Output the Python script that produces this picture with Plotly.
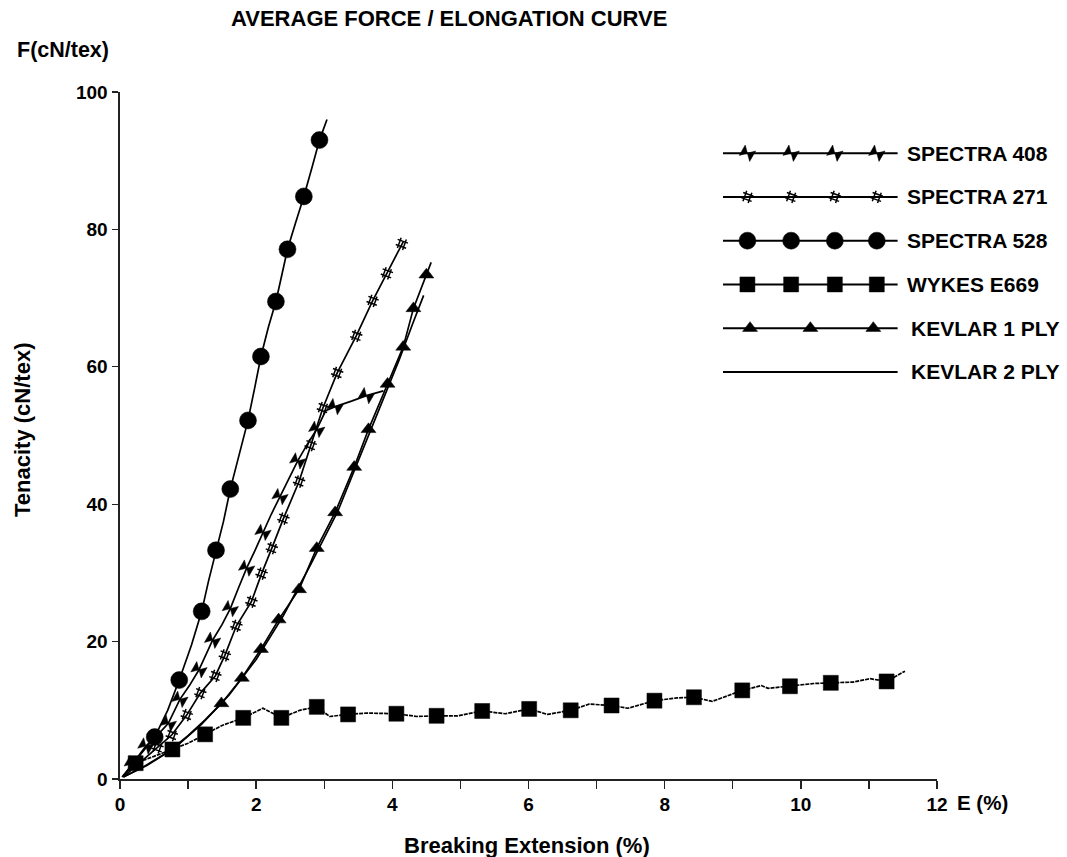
import plotly.graph_objects as go

# ---------------- text ----------------
TITLE = "AVERAGE FORCE / ELONGATION CURVE"
Y_UNIT_LABEL = "F(cN/tex)"
X_UNIT_LABEL = "E (%)"
X_TITLE = "Breaking Extension (%)"
Y_TITLE = "Tenacity (cN/tex)"

x_tick_values = list(range(0, 13))
x_tick_labels = ["0", "", "2", "", "4", "", "6", "", "8", "", "10", "", "12"]
y_tick_values = [0, 20, 40, 60, 80, 100]
y_tick_labels = ["0", "20", "40", "60", "80", "100"]

series_names = ["SPECTRA 408", "SPECTRA 271", "SPECTRA 528",
                "WYKES E669", "KEVLAR 1 PLY", "KEVLAR 2 PLY"]

# ---------------- data ----------------
# SPECTRA 408
s408_x = [0.05, 0.18, 0.38, 0.55, 0.71, 0.88, 1.02, 1.16, 1.26, 1.36, 1.50, 1.62, 1.74, 1.86,
          1.98, 2.10, 2.22, 2.35, 2.48, 2.61, 2.75, 2.89, 3.02, 3.16, 3.40, 3.62, 3.87]
s408_y = [0.4, 2.2, 4.8, 6.4, 8.1, 11.6, 13.6, 15.9, 18.0, 20.2, 22.5, 24.8, 27.8, 30.7,
          33.2, 35.9, 38.5, 41.1, 43.8, 46.3, 48.7, 50.9, 53.6, 54.2, 55.0, 55.8, 56.5]
s408_mx = [0.18, 0.38, 0.71, 0.88, 1.16, 1.36, 1.62, 1.86, 2.10, 2.35, 2.61, 2.89, 3.16, 3.62]
s408_my = [2.2, 4.8, 8.1, 11.6, 15.9, 20.2, 24.8, 30.7, 35.9, 41.1, 46.3, 50.9, 54.2, 55.8]

# SPECTRA 271
s271_x = [0.05, 0.30, 0.55, 0.76, 0.98, 1.18, 1.40, 1.54, 1.71, 1.93, 2.08, 2.23, 2.40,
          2.63, 2.80, 2.98, 3.19, 3.47, 3.71, 3.92, 4.14, 4.16]
s271_y = [0.3, 2.5, 4.6, 6.4, 9.3, 12.5, 15.0, 18.0, 22.3, 25.8, 29.9, 33.6, 37.9,
          43.3, 48.6, 54.0, 59.1, 64.5, 69.6, 73.6, 77.9, 78.2]
s271_mx = [0.55, 0.76, 0.98, 1.18, 1.40, 1.54, 1.71, 1.93, 2.08, 2.23, 2.40, 2.63, 2.80,
           2.98, 3.19, 3.47, 3.71, 3.92, 4.14]
s271_my = [4.6, 6.4, 9.3, 12.5, 15.0, 18.0, 22.3, 25.8, 29.9, 33.6, 37.9, 43.3, 48.6,
           54.0, 59.1, 64.5, 69.6, 73.6, 77.9]

# SPECTRA 528
s528_x = [0.03, 0.25, 0.51, 0.70, 0.87, 1.05, 1.20, 1.30, 1.41, 1.52, 1.62, 1.75, 1.88,
          1.98, 2.07, 2.18, 2.29, 2.38, 2.46, 2.58, 2.70, 2.82, 2.93, 3.04]
s528_y = [0.3, 3.0, 6.1, 10.0, 14.4, 19.5, 24.4, 28.8, 33.3, 37.5, 42.2, 47.0, 52.2,
          57.0, 61.5, 65.8, 69.5, 73.5, 77.1, 81.0, 84.8, 89.0, 93.0, 96.0]
s528_mx = [0.51, 0.87, 1.20, 1.41, 1.62, 1.88, 2.07, 2.29, 2.46, 2.70, 2.93]
s528_my = [6.1, 14.4, 24.4, 33.3, 42.2, 52.2, 61.5, 69.5, 77.1, 84.8, 93.0]

# WYKES E669
wyk_x = [0.05, 0.23, 0.50, 0.77, 1.00, 1.25, 1.50, 1.81, 2.10, 2.37, 2.64, 2.89, 3.08, 3.35,
         3.62, 4.06, 4.36, 4.65, 4.96, 5.32, 5.66, 6.01, 6.28, 6.62, 6.89, 7.22, 7.46,
         7.85, 8.18, 8.43, 8.70, 9.14, 9.42, 9.52, 9.84, 10.19, 10.44, 10.76, 11.02,
         11.26, 11.53]
wyk_y = [0.5, 2.3, 3.3, 4.3, 5.2, 6.5, 7.8, 8.9, 10.3, 8.9, 10.0, 10.5, 9.1, 9.4,
         9.6, 9.5, 9.1, 9.2, 9.2, 9.9, 9.5, 10.2, 9.4, 10.0, 10.9, 10.7, 10.3,
         11.4, 11.8, 11.9, 11.3, 12.9, 13.6, 13.2, 13.5, 13.9, 14.0, 14.1, 14.6,
         14.2, 15.7]
wyk_mx = [0.23, 0.77, 1.25, 1.81, 2.37, 2.89, 3.35, 4.06, 4.65, 5.32, 6.01, 6.62, 7.22,
          7.85, 8.43, 9.14, 9.84, 10.44, 11.26]
wyk_my = [2.3, 4.3, 6.5, 8.9, 8.9, 10.5, 9.4, 9.5, 9.2, 9.9, 10.2, 10.0, 10.7,
          11.4, 11.9, 12.9, 13.5, 14.0, 14.2]

# KEVLAR 1 PLY
kv1_x = [0.05, 0.35, 0.70, 1.00, 1.25, 1.49, 1.79, 2.07, 2.33, 2.63, 2.89, 3.16, 3.44,
         3.65, 3.93, 4.16, 4.31, 4.50, 4.57]
kv1_y = [0.3, 1.8, 3.9, 6.3, 8.6, 11.0, 14.7, 18.9, 23.2, 27.6, 33.6, 38.8, 45.4,
         50.9, 57.5, 62.9, 68.5, 73.4, 75.2]
kv1_mx = [1.49, 1.79, 2.07, 2.33, 2.63, 2.89, 3.16, 3.44, 3.65, 3.93, 4.16, 4.31, 4.50]
kv1_my = [11.0, 14.7, 18.9, 23.2, 27.6, 33.6, 38.8, 45.4, 50.9, 57.5, 62.9, 68.5, 73.4]

# KEVLAR 2 PLY
kv2_x = [0.05, 0.40, 0.80, 1.20, 1.60, 2.00, 2.40, 2.80, 3.20, 3.60, 3.90, 4.10, 4.30, 4.46]
kv2_y = [0.3, 2.0, 4.5, 8.0, 12.2, 17.4, 23.8, 31.2, 39.0, 48.8, 56.2, 61.0, 66.3, 70.4]

# ---------------- styling ----------------
FONT = "Liberation Sans, Arial, sans-serif"
BLACK = "#000000"
LINE_W = 1.7

styles = {
    "SPECTRA 408": dict(symbol="bowtie", size=12, angle=30),
    "SPECTRA 271": dict(symbol="hash", size=11, angle=20),
    "SPECTRA 528": dict(symbol="circle", size=17, angle=0),
    "WYKES E669": dict(symbol="square", size=15, angle=0),
    "KEVLAR 1 PLY": dict(symbol="triangle-up", size=13, angle=0),
}

fig = go.Figure()

def add_series(name, lx, ly, mx=None, my=None, dash="solid"):
    fig.add_trace(go.Scatter(x=lx, y=ly, mode="lines", name=name, showlegend=False,
                             line=dict(color=BLACK, width=LINE_W, dash=dash, shape="linear"),
                             hoverinfo="skip"))
    if mx is not None:
        st = styles[name]
        open_sym = st["symbol"] == "hash"
        fig.add_trace(go.Scatter(x=mx, y=my, mode="markers", name=name, showlegend=False,
                                 hoverinfo="skip",
                                 marker=dict(symbol=st["symbol"], size=st["size"], angle=st["angle"],
                                             color=BLACK,
                                             line=dict(color=BLACK, width=1.5 if open_sym else 0.5))))

add_series("KEVLAR 2 PLY", kv2_x, kv2_y)
add_series("KEVLAR 1 PLY", kv1_x, kv1_y, kv1_mx, kv1_my)
add_series("WYKES E669", wyk_x, wyk_y, wyk_mx, wyk_my, dash="4px,1px")
add_series("SPECTRA 271", s271_x, s271_y, s271_mx, s271_my)
add_series("SPECTRA 408", s408_x, s408_y, s408_mx, s408_my)
add_series("SPECTRA 528", s528_x, s528_y, s528_mx, s528_my)

# ---------------- custom legend (long sample lines with repeated markers) ----------------
legend_pos4 = [0.14, 0.39, 0.64, 0.88]
legend_pos3 = [0.155, 0.5, 0.86]
for i, name in enumerate(series_names):
    fig.add_trace(go.Scatter(x=[0, 1], y=[i, i], mode="lines", xaxis="x2", yaxis="y2",
                             showlegend=False, hoverinfo="skip",
                             line=dict(color=BLACK, width=2)))
    if name in styles:
        st = styles[name]
        pos = legend_pos3 if name == "KEVLAR 1 PLY" else legend_pos4
        open_sym = st["symbol"] == "hash"
        fig.add_trace(go.Scatter(x=pos, y=[i] * len(pos), mode="markers", xaxis="x2", yaxis="y2",
                                 showlegend=False, hoverinfo="skip",
                                 marker=dict(symbol=st["symbol"], size=st["size"], angle=st["angle"],
                                             color=BLACK,
                                             line=dict(color=BLACK, width=1.5 if open_sym else 0.5))))
    fig.add_annotation(x=1, y=i, xref="x2", yref="y2", text=name, showarrow=False,
                       xanchor="left", yanchor="middle", xshift=7 if "KEVLAR" not in name else 11,
                       font=dict(family=FONT, size=21, color=BLACK, weight="bold"))

axis_line = dict(showline=True, linecolor="#222222", linewidth=1.6, mirror=False,
                 showgrid=False, zeroline=False, ticks="outside", tickcolor="#222222",
                 tickwidth=1.4)

fig.update_layout(
    width=1067, height=857, autosize=False,
    margin=dict(l=120, r=130, t=92, b=78),
    paper_bgcolor="white", plot_bgcolor="white",
    font=dict(family=FONT, color=BLACK),
    hovermode=False,
    xaxis=dict(range=[0, 12], tickvals=x_tick_values, ticktext=x_tick_labels, ticklen=8,
               tickfont=dict(family=FONT, size=19, color=BLACK, weight="bold"),
               **axis_line),
    yaxis=dict(range=[0, 100], tickvals=y_tick_values, ticktext=y_tick_labels, ticklen=6,
               ticklabelstandoff=1,
               tickfont=dict(family=FONT, size=19, color=BLACK, weight="bold"),
               **axis_line),
    xaxis2=dict(domain=[0.738, 0.952], range=[0, 1], anchor="y2", visible=False, fixedrange=True),
    yaxis2=dict(domain=[0.5735, 0.930], range=[5.3, -0.3], anchor="x2", visible=False, fixedrange=True),
)

def label(text, x, y, size, xanchor="center", angle=0):
    fig.add_annotation(x=x, y=y, xref="paper", yref="paper", text=text, showarrow=False,
                       xanchor=xanchor, yanchor="middle", textangle=angle,
                       font=dict(family=FONT, size=size, color=BLACK, weight="bold"))

label(TITLE, 0.4027, 1.1077, 22)
label(Y_UNIT_LABEL, -0.1285, 1.0611, 21.5, xanchor="left")
label(X_UNIT_LABEL, 1.022, -0.0349, 20.5, xanchor="left")
label(X_TITLE, 0.498, -0.0961, 22)
label(Y_TITLE, -0.12, 0.508, 22, angle=-90)

# Remove the default 8px page margin so the 1067x857 figure fills the window exactly.
fig.write_html("out.html",
               config={"displayModeBar": False, "staticPlot": True},
               post_script="document.body.style.margin='0';document.body.style.overflow='hidden';")
